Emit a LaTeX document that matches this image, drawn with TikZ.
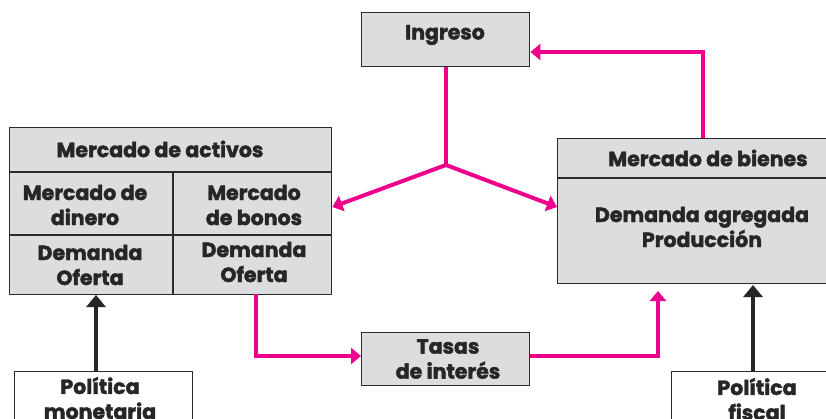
\documentclass[tikz,border=0pt]{standalone}
\usepackage{fontspec}
\setmainfont{Poppins}[BoldFeatures={FakeBold=2}]
\usetikzlibrary{arrows.meta}
\definecolor{boxgray}{HTML}{DCDDDF}
\definecolor{pinkc}{HTML}{EC008C}
\definecolor{edgec}{HTML}{2B2B2B}
\begin{document}
\begin{tikzpicture}[x=1pt,y=-1pt,
  box/.style={draw=edgec,line width=1.4pt,fill=boxgray,inner sep=0pt,anchor=north west},
  wbox/.style={draw=edgec,line width=1.4pt,fill=white,inner sep=0pt,anchor=north west},
  txt/.style={font=\bfseries\fontsize{20.5}{25}\selectfont,text=black!85,align=center,inner sep=0pt},
  pinkarrow/.style={draw=pinkc,line width=4pt,-{Triangle[length=10pt,width=16pt]}},
  pinkline/.style={draw=pinkc,line width=4pt},
  blackarrow/.style={draw=black!85,line width=4pt,-{Triangle[length=12pt,width=19pt]}}
]
\useasboundingbox (0,0) rectangle (826,419);
% boxes
\node[box,minimum width=168pt,minimum height=54pt] (ing) at (361,12) {};
\node[box,minimum width=322pt,minimum height=167pt] (act) at (9,127) {};
\node[box,minimum width=272pt,minimum height=145pt] (bien) at (557,138) {};
\node[box,minimum width=168pt,minimum height=53pt] (tas) at (361,332) {};
\node[wbox,minimum width=178pt,minimum height=60pt] (pmon) at (14,371) {};
\node[wbox,minimum width=160pt,minimum height=60pt] (pfis) at (671,371) {};
% inner dividers
\draw[edgec,line width=2pt] (act.west |- 0,172) coordinate (a1) -- (act.east |- 0,172) coordinate (a2);
\draw[edgec,line width=1.2pt] (act.west |- 0,235) coordinate (a3) -- (act.east |- 0,235) coordinate (a4);
\draw[edgec,line width=1.2pt] (173,172) coordinate (a5) -- (act.south -| 173,0) coordinate (a6);
\draw[edgec,line width=2pt] (bien.west |- 0,178) coordinate (b1) -- (bien.east |- 0,178) coordinate (b2);
% texts
\node[txt] (tIng) at (445,35) {Ingreso};
\node[txt] (tAct) at (160,149) {Mercado de activos};
\node[txt] (tDin) at (85,205) {Mercado de\\dinero};
\node[txt] (tBon) at (254,205) {Mercado\\de bonos};
\node[txt] (tDO1) at (90,265) {Demanda\\Oferta};
\node[txt] (tDO2) at (254,262) {Demanda\\Oferta};
\node[txt] (tBien) at (708,158) {Mercado de bienes};
\node[txt] (tDA) at (702,227) {Demanda agregada\\Producción};
\node[txt] (tTas) at (448,359) {Tasas\\de interés};
\node[txt] (tMon) at (100,398) {Política\\monetaria};
\node[txt] (tFis) at (757,399) {Política\\fiscal};
% connectors
\coordinate (j) at (446,165);
\coordinate (bienTop) at (703,138);
\coordinate (bonBot) at (256,294);
\draw[pinkline] (ing.south -| j) -- (j);
\draw[pinkarrow] (j) -- (act.east |- 0,207);
\draw[pinkarrow] (j) -- (bien.west |- 0,207);
\draw[pinkarrow] (bienTop) |- (ing.east |- 0,52);
\draw[pinkarrow] (bonBot) |- (tas.west |- 0,356);
\draw[pinkarrow] (tas.east |- 0,356) -| (658,291);
\draw[blackarrow] (pmon.north -| 96,0) -- (96,295);
\draw[blackarrow] (pfis.north -| 753,0) -- (753,285);
\end{tikzpicture}
\end{document}
